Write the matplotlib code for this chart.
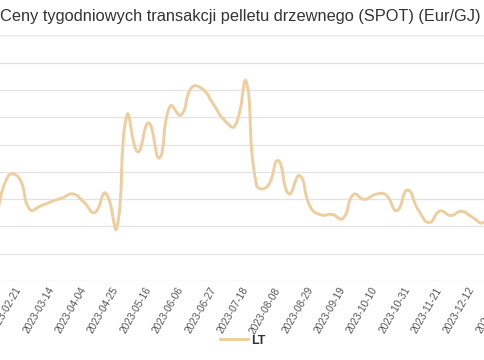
import matplotlib
matplotlib.use("Agg")
import matplotlib.pyplot as plt
from matplotlib.path import Path
from matplotlib.patches import PathPatch
from matplotlib.lines import Line2D
import numpy as np
import pandas as pd

title = "Ceny tygodniowych transakcji pelletu drzewnego (SPOT) (Eur/GJ)"
series_name = "LT"
dates = [d.strftime("%Y-%m-%d") for d in pd.date_range("2023-02-07", periods=47, freq="7D")]
values = [10.45, 11.85, 11.77, 10.62, 10.75, 10.91, 11.04, 11.19, 10.89, 10.51,
          11.22, 9.87, 14.08, 12.73, 13.79, 12.51, 14.41, 14.08, 15.09, 15.03,
          14.48, 13.90, 13.68, 15.36, 11.52, 11.46, 12.41, 11.19, 11.86, 10.71,
          10.42, 10.44, 10.29, 11.17, 10.99, 11.17, 11.15, 10.58, 11.33, 10.60,
          10.14, 10.56, 10.40, 10.55, 10.34, 10.14, 10.78]
tick_labels = ["2023-02-21", "2023-03-14", "2023-04-04", "2023-04-25", "2023-05-16",
               "2023-06-06", "2023-06-27", "2023-07-18", "2023-08-08", "2023-08-29",
               "2023-09-19", "2023-10-10", "2023-10-31", "2023-11-21", "2023-12-12",
               "2024-01-02"]
y_ticks = list(range(8, 18))

W, H = 485, 360
fig = plt.figure(figsize=(W / 100, H / 100), dpi=100)

sx = 10.79   # px per week
sy = 27.3    # px per unit
x_px0 = -2.49
xmax = 48
ax_left = x_px0 / W
ax_width = xmax * sx / W
y_bottom_px = 281
y_top_px = 281 - 9 * sy
ax = fig.add_axes([ax_left, (H - y_bottom_px) / H, ax_width, (y_bottom_px - y_top_px) / H])
ax.set_xlim(0, xmax)
ax.set_ylim(8, 17)

for s in ax.spines.values():
    s.set_visible(False)
ax.set_yticks(y_ticks)
ax.set_yticklabels([])
ax.tick_params(axis="y", length=0)
ax.grid(axis="y", color="#E3E3E3", linewidth=0.9)
ax.set_axisbelow(True)

start = pd.Timestamp(dates[0])
tick_idx = [(pd.Timestamp(t) - start).days // 7 for t in tick_labels]
ax.set_xticks(tick_idx)
ax.set_xticklabels(tick_labels, rotation=60, ha="right", va="center", rotation_mode="anchor",
                   fontsize=7.3, color="#555555", family="Liberation Sans")
ax.tick_params(axis="x", length=0, pad=5)

# ECharts (v4-style) smooth line, smooth = 0.5, global bbox constraint
xs = np.arange(len(values)) * sx
ys = np.array(values) * sy
pts = np.column_stack([xs, ys])
smooth = 0.5
n = len(pts)
pmin = pts.min(axis=0)
pmax = pts.max(axis=0)
verts = [tuple(pts[0])]
codes = [Path.MOVETO]
cp0 = pts[0].copy()
for i in range(1, n):
    p = pts[i]
    prev = pts[i - 1]
    if i < n - 1:
        nxt = pts[i + 1]
        v = nxt - prev
        d0 = np.hypot(*(p - prev))
        d1 = np.hypot(*(nxt - p))
        r = d1 / (d0 + d1)
        cp1 = p - v * smooth * (1 - r)
        ncp0 = p + v * smooth * r
    else:
        cp1 = p.copy()
        ncp0 = p.copy()
    c0 = np.clip(cp0, pmin, pmax)
    c1 = np.clip(cp1, pmin, pmax)
    verts += [tuple(c0), tuple(c1), tuple(p)]
    codes += [Path.CURVE4] * 3
    cp0 = ncp0

verts = [(a / sx, b / sy) for a, b in verts]
line_color = "#EDCE9E"
patch = PathPatch(Path(verts, codes), facecolor="none", edgecolor=line_color,
                  linewidth=2.1, capstyle="round", joinstyle="round")
ax.add_patch(patch)

fig.text(0 / W, 1 - 16 / H, title, ha="left", va="center", fontsize=11.8,
         color="#333333", family="Liberation Sans")

handle = Line2D([], [], color=line_color, linewidth=2.1)
leg = fig.legend([handle], [series_name], loc="center", bbox_to_anchor=(243 / W, 1 - 340.7 / H),
                 frameon=False, handlelength=2.2, handletextpad=0.3,
                 prop={"family": "Liberation Sans", "weight": "bold", "size": 9})
for t in leg.get_texts():
    t.set_color("#333333")

fig.savefig("out.png", dpi=100)
